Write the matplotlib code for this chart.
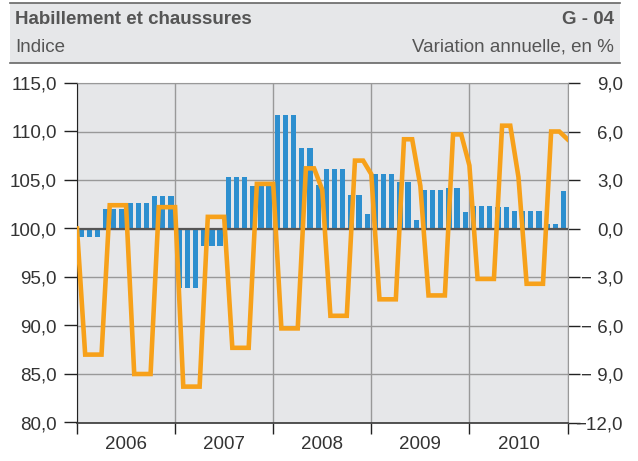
import matplotlib
matplotlib.use("Agg")
import matplotlib.pyplot as plt
from matplotlib.patches import Rectangle
from matplotlib.lines import Line2D
import numpy as np

plt.rcParams['font.family'] = ['Liberation Sans', 'DejaVu Sans']

# indice (échelle de gauche), un point par mois, déc. 2005 = 100
indice = [100.0,
          87.0, 87.0, 87.0, 102.4, 102.4, 102.4, 85.0, 85.0, 85.0, 102.2, 102.2, 102.2,
          83.7, 83.7, 83.7, 101.2, 101.2, 101.2, 87.7, 87.7, 87.7, 104.6, 104.6, 104.6,
          89.7, 89.7, 89.7, 106.2, 106.2, 104.0, 91.0, 91.0, 91.0, 107.0, 107.0, 105.6,
          92.7, 92.7, 92.7, 109.2, 109.2, 104.4, 93.1, 93.1, 93.1, 109.7, 109.7, 106.5,
          94.8, 94.8, 94.8, 110.6, 110.6, 105.3, 94.3, 94.3, 94.3, 110.0, 110.0, 109.2]

# variation annuelle en % (échelle de droite)
variation = [-0.5, -0.5, -0.5, 1.2, 1.2, 1.2, 1.6, 1.6, 1.6, 2.0, 2.0, 2.0,
             -3.7, -3.7, -3.7, -1.1, -1.1, -1.1, 3.2, 3.2, 3.2, 2.6, 2.6, 2.6,
             7.0, 7.0, 7.0, 5.0, 5.0, 2.7, 3.7, 3.7, 3.7, 2.1, 2.1, 0.9,
             3.4, 3.4, 3.4, 2.9, 2.9, 0.5, 2.4, 2.4, 2.4, 2.5, 2.5, 1.0,
             1.4, 1.4, 1.4, 1.3, 1.3, 1.1, 1.1, 1.1, 1.1, 0.3, 0.3, 2.3]

annees = ['2006', '2007', '2008', '2009', '2010']
ticks_gauche = [80, 85, 90, 95, 100, 105, 110, 115]
labels_gauche = ['80,0', '85,0', '90,0', '95,0', '100,0', '105,0', '110,0', '115,0']
ticks_droite = [-12, -9, -6, -3, 0, 3, 6, 9]
labels_droite = ['\u221212,0', '\u2212 9,0', '\u2212 6,0', '\u2212 3,0', '0,0', '3,0', '6,0', '9,0']

fond = '#e6e7e9'
bleu = '#2d8fcf'
orange = '#f7a11a'
texte = '#333333'

fig = plt.figure(figsize=(6.38, 4.61), dpi=100)

# bandeau du titre
fig.patches.append(Rectangle((10/638, 1 - 63/461), 610/638, 60/461,
                             transform=fig.transFigure, facecolor=fond, edgecolor='none'))
for yy in (1 - 3/461, 1 - 63/461):
    fig.lines.append(Line2D([10/638, 620/638], [yy, yy], transform=fig.transFigure,
                            color='#666666', lw=1.2))
fig.text(15/638, 1 - 19/461, 'Habillement et chaussures', fontsize=13.5, fontweight='bold',
         color='#555555', va='center', ha='left')
fig.text(614/638, 1 - 19/461, 'G - 04', fontsize=13.5, fontweight='bold',
         color='#555555', va='center', ha='right')
fig.text(15/638, 1 - 47.5/461, 'Indice', fontsize=13.5, color='#555555', va='center', ha='left')
fig.text(614/638, 1 - 47.5/461, 'Variation annuelle, en %', fontsize=13.5, color='#555555',
         va='center', ha='right')

ax = fig.add_axes([77/638, 1 - 422.5/461, 490.5/638, 339.5/461])
ax.set_facecolor(fond)
ax2 = ax.twinx()

# barres : variation annuelle (axe de droite)
x_barres = np.arange(len(variation)) + 0.5
ax.bar(x_barres, variation, width=0.65, color=bleu, zorder=2)
ax.axhline(0, color='#555555', lw=1.6, zorder=3)
ax.set_ylim(-12, 9)
ax.set_xlim(0, 60)
ax.yaxis.tick_right()
ax.set_yticks(ticks_droite)
ax.set_yticklabels(labels_droite)
ax.tick_params(axis='y', direction='out', length=8.5, width=1, color='#222222',
               pad=31.5, labelsize=13.5, labelcolor=texte)
for lab in ax.get_yticklabels():
    lab.set_horizontalalignment('right')
ax.grid(axis='y', color='#999999', lw=1, zorder=1)

# années
ax.set_xticks([0, 12, 24, 36, 48, 60])
ax.set_xticklabels([])
ax.set_xticks([6, 18, 30, 42, 54], minor=True)
ax.set_xticklabels(annees, minor=True)
ax.tick_params(axis='x', which='major', direction='out', length=8, width=1, color='#222222')
ax.tick_params(axis='x', which='minor', length=0, pad=10, labelsize=13.5, labelcolor=texte)
ax.grid(axis='x', which='major', color='#999999', lw=1, zorder=1)

for s in ('top', 'right'):
    ax.spines[s].set_color('#999999')
ax.spines['left'].set_color('#222222')
ax.spines['bottom'].set_color('#444444')
ax.spines['bottom'].set_linewidth(1.3)

# ligne : indice (axe de gauche)
ax2.plot(np.arange(len(indice)), indice, color=orange, lw=3.3, solid_joinstyle='miter', zorder=4)
ax2.set_ylim(80, 115)
ax2.set_xlim(0, 60)
ax2.yaxis.tick_left()
ax2.set_yticks(ticks_gauche)
ax2.set_yticklabels(labels_gauche)
ax2.tick_params(axis='y', direction='out', length=9.5, width=1, color='#222222',
                pad=5, labelsize=13.5, labelcolor=texte)
for s in ax2.spines.values():
    s.set_visible(False)

fig.savefig('out.png', dpi=100)
